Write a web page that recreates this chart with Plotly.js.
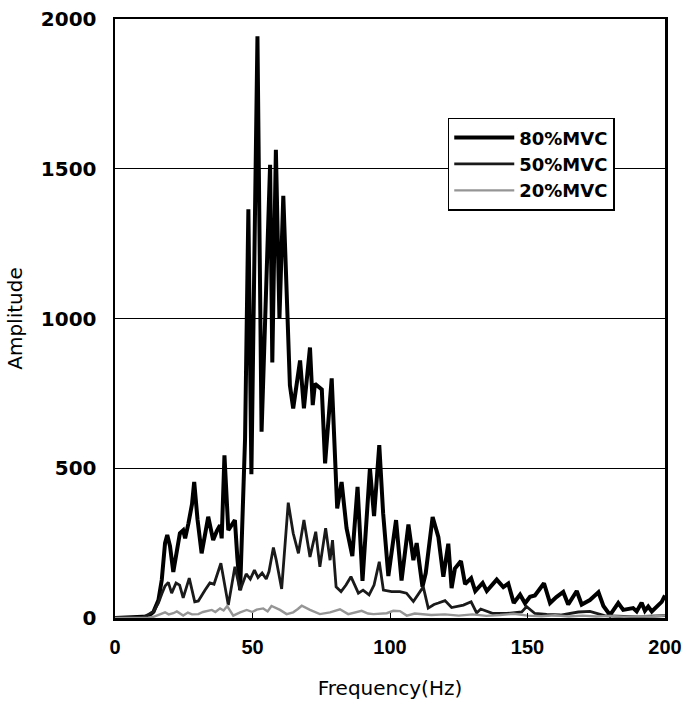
<!DOCTYPE html>
<html>
<head>
<meta charset="utf-8">
<script src="https://cdn.plot.ly/plotly-3.0.1.min.js"></script>
<style>html,body{margin:0;padding:0;background:#fff;}#chart{width:683px;height:711px;}</style>
</head>
<body>
<div id="chart"></div>
<script>
// 80%MVC
const freq80 = [0, 10, 12, 14, 15.8, 17, 18.2, 19, 20, 21.2, 22.5, 23.6, 24.8, 25.5, 26.7, 28, 28.8, 30, 31.5, 33, 33.9, 35, 35.7, 37, 38.2, 38.8, 39.8, 41.2, 42.4, 43.6, 44.5, 45.5, 47.3, 48.5, 49.6, 51.8, 53.3, 56.4, 57.2, 58.5, 59.8, 61.2, 63.6, 64.8, 67.3, 68.7, 70.9, 71.9, 72.7, 75.2, 76.4, 78.8, 80.8, 82.4, 84.2, 86.3, 88.2, 90, 92.7, 94.2, 96.1, 97.5, 99.4, 102.2, 104.2, 106.7, 108.5, 109.7, 111.8, 113, 115.5, 117.6, 119.4, 121.2, 122.4, 123.6, 125.8, 127.3, 129.5, 131, 133.7, 135.2, 138.8, 141.2, 143, 145, 147.3, 149.1, 150.9, 152.7, 156, 158.2, 160.5, 163, 164.8, 167.9, 169.7, 172.7, 175.8, 177.6, 180, 183, 184.8, 188.4, 189.7, 191.5, 192.7, 193.9, 195.2, 198.8, 200];
const amp80 = [0, 2, 5, 21, 60, 127, 250, 277, 240, 154, 220, 283, 293, 266, 316, 380, 454, 330, 216, 290, 338, 290, 260, 290, 310, 266, 543, 293, 310, 327, 200, 93, 600, 1365, 480, 1942, 622, 1513, 853, 1563, 1000, 1410, 777, 700, 860, 700, 903, 711, 782, 763, 516, 800, 366, 454, 300, 207, 438, 124, 500, 340, 577, 350, 140, 327, 125, 312, 193, 250, 104, 150, 337, 270, 138, 248, 100, 165, 190, 113, 133, 90, 117, 90, 128, 103, 115, 50, 78, 49, 71, 75, 116, 50, 70, 87, 45, 90, 45, 60, 86, 40, 10, 50, 27, 33, 22, 51, 24, 38, 22, 54, 75];

// 50%MVC
const freq50 = [0, 10, 14, 15.8, 17, 18.2, 19.4, 20.6, 22.2, 23.5, 24.8, 27, 29, 30.3, 32.7, 34.5, 36, 38.5, 41.2, 43.6, 45.5, 47.7, 49.2, 50.7, 52, 53.5, 55, 56, 57.6, 58.6, 60.6, 63, 64.8, 66.7, 68.7, 70.9, 73, 74.5, 76.6, 78.2, 79.1, 80.4, 82.2, 84, 85.8, 88.5, 90.2, 92.4, 94.2, 96.1, 97.6, 100.6, 103.6, 106, 108.5, 112.1, 113.9, 116, 117.6, 120, 122.4, 126.7, 129.5, 131.5, 133, 137.5, 142.4, 147.9, 149.7, 152.7, 157, 162, 168.5, 172.7, 178, 185, 192, 200];
const amp50 = [0, 2, 21, 50, 80, 107, 119, 83, 117, 110, 67, 133, 54, 57, 93, 117, 113, 183, 43, 171, 93, 147, 130, 160, 135, 150, 130, 155, 235, 195, 97, 385, 283, 216, 327, 204, 288, 171, 300, 193, 260, 104, 88, 110, 138, 83, 93, 77, 110, 188, 93, 88, 88, 83, 55, 104, 33, 45, 50, 58, 35, 43, 54, 17, 30, 15, 15, 20, 38, 15, 12, 10, 20, 22, 8, 5, 5, 8];

// 20%MVC
const freq20 = [0, 12, 14, 16.4, 18.2, 19.5, 21.2, 22.5, 24.8, 26.5, 28, 30.3, 32, 35.2, 36.5, 38.2, 39.5, 40.8, 43, 45.5, 47.9, 50, 51.5, 53.9, 55.5, 56.9, 60, 62.4, 64.8, 66.5, 67.9, 70.9, 72.5, 74.5, 78.2, 80, 81.8, 84.8, 87, 89.7, 92, 94, 98.8, 101.2, 103.6, 106.1, 109, 112.1, 115, 120, 125, 130, 135, 140, 145, 150, 155, 160, 165, 170, 175, 180, 185, 190, 195, 200];
const amp20 = [0, 1, 4, 13, 19, 12, 16, 22, 8, 18, 12, 13, 20, 27, 20, 32, 25, 40, 8, 19, 27, 20, 28, 32, 22, 40, 27, 13, 19, 30, 41, 27, 20, 13, 19, 25, 29, 13, 18, 24, 15, 13, 16, 24, 23, 8, 15, 13, 10, 12, 8, 12, 7, 10, 14, 8, 6, 9, 5, 8, 5, 7, 4, 6, 5, 8];

const seriesNames = ['80%MVC', '50%MVC', '20%MVC'];
const xTicks = [0, 50, 100, 150, 200];
const yTicks = [0, 500, 1000, 1500, 2000];

const traces = [
  {x: freq80, y: amp80, name: seriesNames[0], type: 'scatter', mode: 'lines', line: {color: '#000000', width: 4}},
  {x: freq50, y: amp50, name: seriesNames[1], type: 'scatter', mode: 'lines', line: {color: '#1a1a1a', width: 2.8}},
  {x: freq20, y: amp20, name: seriesNames[2], type: 'scatter', mode: 'lines', line: {color: '#959595', width: 2.4}}
];

const FONT = 'DejaVu Sans, Liberation Sans, Arial, sans-serif';
const XFONT = 'Liberation Sans, Arial, sans-serif';
const layout = {
  width: 683, height: 711,
  margin: {l: 115, r: 18, t: 19, b: 93},
  paper_bgcolor: '#ffffff', plot_bgcolor: '#ffffff',
  font: {family: FONT, color: '#000'},
  showlegend: true,
  legend: {
    x: 0.605, y: 0.835, xanchor: 'left', yanchor: 'top',
    bgcolor: '#ffffff', bordercolor: '#000', borderwidth: 1.5,
    font: {size: 18, family: FONT, weight: 'bold'},
    itemwidth: 60,
    tracegroupgap: 0
  },
  xaxis: {
    range: [0, 200], tickvals: xTicks, ticktext: xTicks.map(String),
    ticks: 'inside', ticklen: 5, tickcolor: '#000', tickwidth: 1,
    ticklabelstandoff: 9, ticklabeloverflow: 'allow',
    showgrid: false, zeroline: false,
    showline: true, linecolor: '#000', linewidth: 2.5, mirror: true,
    tickfont: {size: 20, weight: 'bold', family: XFONT},
    title: {text: 'Frequency(Hz)', font: {size: 20, family: FONT}, standoff: 25}
  },
  yaxis: {
    range: [0, 2000], tickvals: yTicks, ticktext: yTicks.map(String),
    ticks: '', showgrid: true, gridcolor: '#000', gridwidth: 1,
    ticklabelstandoff: 12,
    zeroline: false,
    showline: true, linecolor: '#000', linewidth: 2.5, mirror: true,
    tickfont: {size: 20, weight: 'bold', family: FONT},
    title: {text: 'Amplitude', font: {size: 20, family: FONT}, standoff: 13}
  }
};

Plotly.newPlot('chart', traces, layout, {staticPlot: true, displayModeBar: false});
</script>
</body>
</html>
